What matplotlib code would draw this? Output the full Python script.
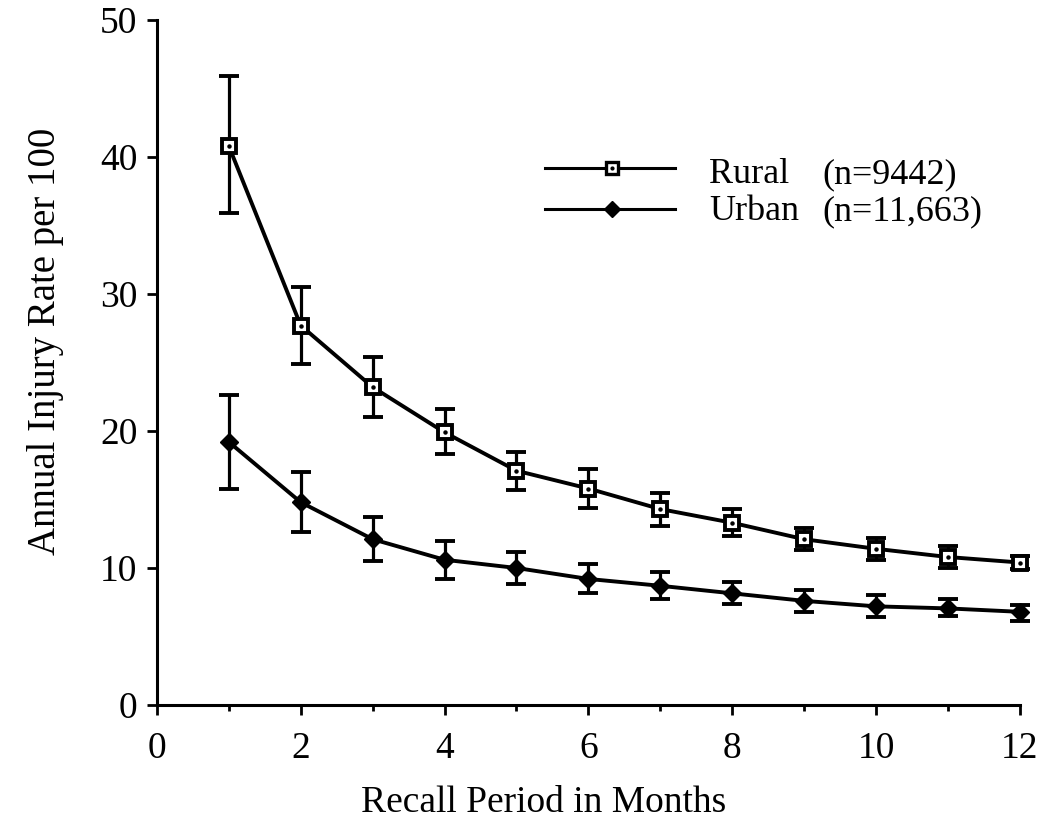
import matplotlib
matplotlib.use("Agg")
import matplotlib.pyplot as plt
from matplotlib.ticker import MultipleLocator

plt.rcParams['font.family'] = ['Liberation Serif', 'DejaVu Serif']

# recall period (months)
months = [1, 2, 3, 4, 5, 6, 7, 8, 9, 10, 11, 12]

# rural (n=9442)
rural = [40.8, 27.7, 23.2, 19.9, 17.1, 15.8, 14.3, 13.3, 12.1, 11.4, 10.8, 10.4]
rural_hi = [45.9, 30.5, 25.4, 21.6, 18.5, 17.2, 15.5, 14.3, 12.9, 12.2, 11.6, 10.9]
rural_lo = [35.9, 24.9, 21.0, 18.3, 15.7, 14.4, 13.1, 12.3, 11.3, 10.6, 10.0, 9.9]

# urban (n=11,663)
urban = [19.2, 14.8, 12.1, 10.6, 10.0, 9.2, 8.7, 8.15, 7.6, 7.2, 7.05, 6.8]
urban_hi = [22.6, 17.0, 13.7, 12.0, 11.2, 10.3, 9.7, 9.0, 8.4, 8.0, 7.7, 7.3]
urban_lo = [15.8, 12.65, 10.5, 9.2, 8.8, 8.2, 7.7, 7.4, 6.8, 6.4, 6.5, 6.1]

fig = plt.figure(figsize=(10.39, 8.23), dpi=100)
ax = fig.add_axes([0.151, 0.1434, 0.8306, 0.8323])

def draw(y, lo, hi, marker, ms):
    err = [[v - l for v, l in zip(y, lo)], [h - v for v, h in zip(y, hi)]]
    ax.errorbar(months, y, yerr=err, fmt='none', ecolor='black', elinewidth=2.3,
                capsize=7.5, capthick=2.8, clip_on=False, zorder=2)
    ax.plot(months, y, color='black', lw=2.8, clip_on=False, zorder=3)
    if marker == 's':
        ax.plot(months, y, 's', ms=ms, mfc='white', mec='black', mew=2.8,
                clip_on=False, zorder=4)
        ax.plot(months, y, 'o', ms=2.2, color='black', clip_on=False, zorder=5)
    else:
        ax.plot(months, y, 'D', ms=ms, color='black', clip_on=False, zorder=4)

draw(rural, rural_lo, rural_hi, 's', 9.5)
draw(urban, urban_lo, urban_hi, 'D', 9)

ax.set_xlim(0, 12)
ax.set_ylim(0, 50)
ax.xaxis.set_major_locator(MultipleLocator(2))
ax.xaxis.set_minor_locator(MultipleLocator(1))
ax.yaxis.set_major_locator(MultipleLocator(10))

for s in ['top', 'right']:
    ax.spines[s].set_visible(False)
for s in ['left', 'bottom']:
    ax.spines[s].set_linewidth(2.2)

ax.tick_params(axis='both', which='major', length=7, width=2, labelsize=27, direction='out')
ax.tick_params(axis='x', which='minor', length=4.5, width=2, direction='out')
ax.tick_params(axis='x', which='major', pad=12)
ax.tick_params(axis='y', which='major', pad=7)

ax.set_xlabel('Recall Period in Months', fontsize=27)
ax.xaxis.set_label_coords(0.448, -0.118)
ax.set_ylabel('Annual Injury Rate per 100', fontsize=28)
ax.yaxis.set_label_coords(-0.108, 0.531)

# legend
leg_x = [0.450, 0.527, 0.600]
ax.plot(leg_x, [0.784] * 3, color='black', lw=2.2, transform=ax.transAxes,
        clip_on=False)
ax.plot([leg_x[1]], [0.784], 's', ms=8, mfc='white', mec='black', mew=2.4,
        transform=ax.transAxes, clip_on=False)
ax.plot([leg_x[1]], [0.784], 'o', ms=2, color='black', transform=ax.transAxes,
        clip_on=False)
ax.plot(leg_x, [0.724] * 3, color='black', lw=2.2, transform=ax.transAxes,
        clip_on=False)
ax.plot([leg_x[1]], [0.724], 'D', ms=8, color='black', transform=ax.transAxes,
        clip_on=False)

ax.text(0.640, 0.762, 'Rural', fontsize=26, va='baseline', transform=ax.transAxes)
ax.text(0.771, 0.762, '(n=9442)', fontsize=26, va='baseline', transform=ax.transAxes)
ax.text(0.640, 0.708, 'Urban', fontsize=26, va='baseline', transform=ax.transAxes)
ax.text(0.771, 0.708, '(n=11,663)', fontsize=26, va='baseline', transform=ax.transAxes)

fig.savefig('out.png', dpi=100)
